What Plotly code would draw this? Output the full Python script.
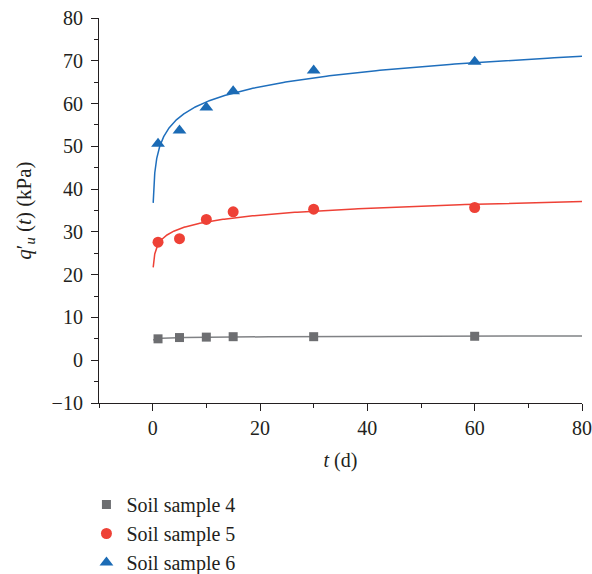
import numpy as np
import plotly.graph_objects as go

# Data
t_days = [1, 5, 10, 15, 30, 60]
soil4 = [5.0, 5.3, 5.4, 5.5, 5.5, 5.6]
soil5 = [27.6, 28.4, 32.9, 34.7, 35.3, 35.7]
soil6 = [50.6, 53.7, 59.1, 62.9, 67.7, 69.8]
series_names = ["Soil sample 4", "Soil sample 5", "Soil sample 6"]
x_ticks = [0, 20, 40, 60, 80]
y_ticks = [-10, 0, 10, 20, 30, 40, 50, 60, 70, 80]

marker_colors = ["#6d6e71", "#ee4136", "#1b6bb5"]
line_colors = ["#808285", "#ee4136", "#1f6fbd"]
symbols = ["square", "circle", "triangle-up"]
sizes = [9, 11, 12]

FONT = "Liberation Serif"
INK = "#231f20"

fig = go.Figure()
t_arr = np.array(t_days, dtype=float)
t_fit = np.geomspace(0.1, 80, 400)
for vals, lc in zip([soil4, soil5, soil6], line_colors):
    b, a = np.polyfit(np.log(t_arr), np.array(vals), 1)
    fig.add_trace(go.Scatter(x=t_fit, y=a + b * np.log(t_fit), mode="lines",
                             line=dict(color=lc, width=1.5), showlegend=False,
                             hoverinfo="skip"))
for vals, name, mc, sym, sz in zip([soil4, soil5, soil6], series_names,
                                   marker_colors, symbols, sizes):
    fig.add_trace(go.Scatter(x=t_days, y=vals, mode="markers", name=name,
                             marker=dict(symbol=sym, size=sz, color=mc,
                                         line=dict(width=0))))

axis_common = dict(showline=True, linecolor=INK, linewidth=1.2, ticks="outside",
                   ticklen=7, tickwidth=1.2, tickcolor=INK, showgrid=False,
                   zeroline=False, mirror=False, automargin=False,
                   tickfont=dict(family=FONT, size=20, color=INK))

fig.update_layout(
    width=592, height=574,
    margin=dict(l=99, r=10, t=18, b=171, autoexpand=False),
    paper_bgcolor="white", plot_bgcolor="white",
    font=dict(family=FONT, size=20, color=INK),
    xaxis=dict(range=[-10, 80], tickvals=x_ticks,
               minor=dict(dtick=10, tick0=0, ticks="outside", ticklen=4,
                          tickwidth=1.2, tickcolor=INK),
               title=dict(text="<i>t</i> (d)", standoff=14,
                          font=dict(family=FONT, size=20, color=INK)),
               **axis_common),
    yaxis=dict(range=[-10, 80], tickvals=y_ticks, ticklabelstandoff=4,
               minor=dict(dtick=5, tick0=0, ticks="outside", ticklen=4,
                          tickwidth=1.2, tickcolor=INK),
               title=dict(text="<i>q</i>′<sub><i>u</i></sub> (<i>t</i>) (kPa)", standoff=14,
                          font=dict(family=FONT, size=21, color=INK)),
               **axis_common),
    legend=dict(x=-0.026, y=-0.213, xanchor="left", yanchor="top",
                font=dict(family=FONT, size=20, color=INK),
                bgcolor="rgba(0,0,0,0)", tracegroupgap=0, itemwidth=30),
    showlegend=True,
)

fig.write_html("out.html")
